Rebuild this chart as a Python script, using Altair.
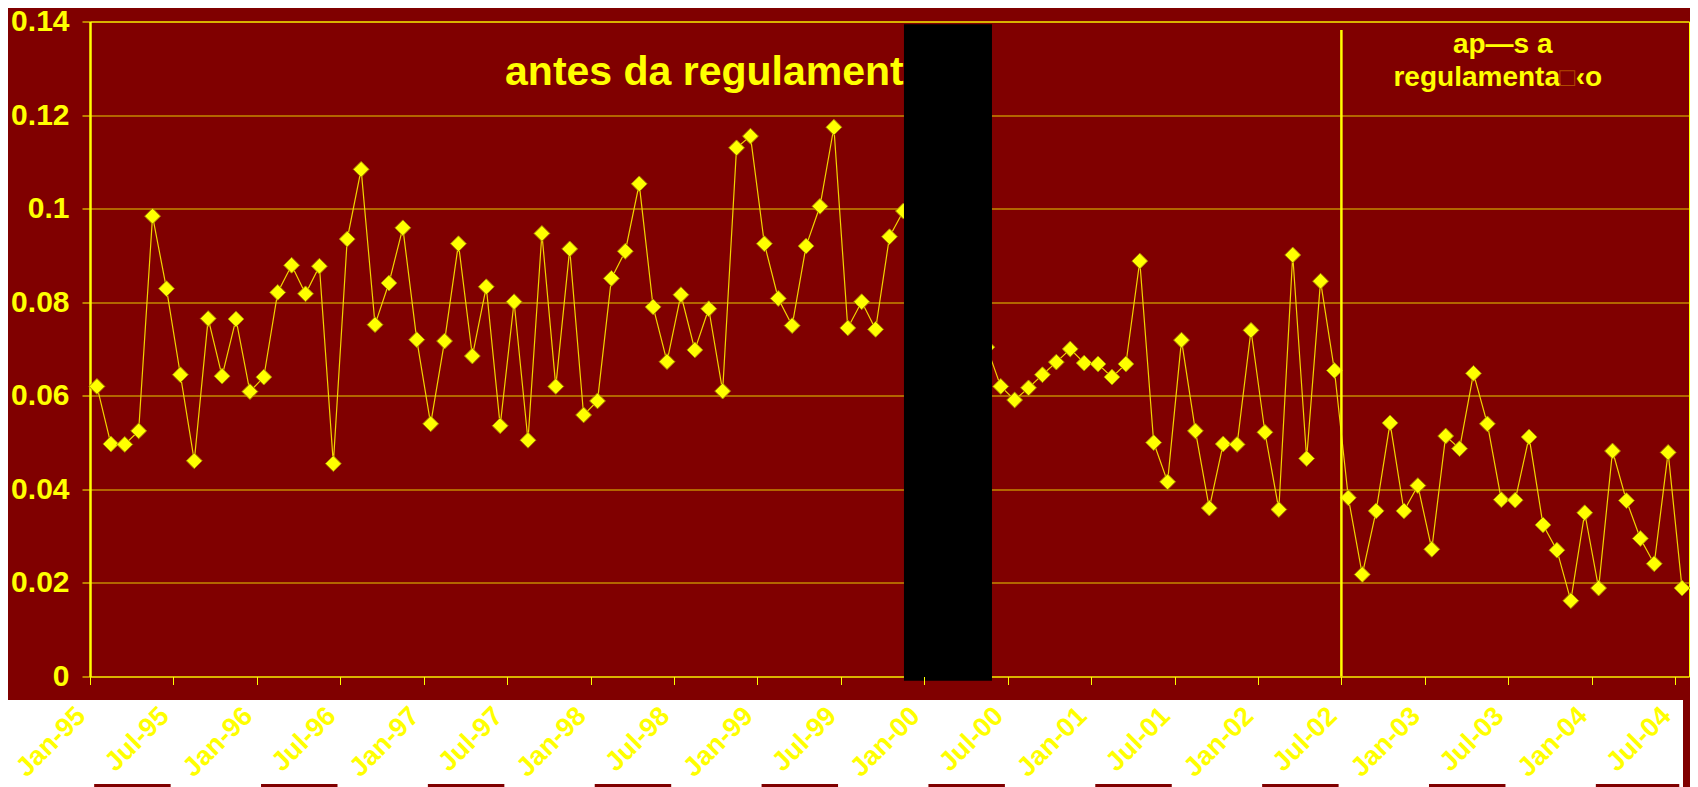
import json
import altair as alt
import pandas as pd

# ---- data (monthly, Jan-95 .. Jul-04) ----
rates = [
    0.0620, 0.0497, 0.0496, 0.0525, 0.0984, 0.0829, 0.0645, 0.0461, 0.0765, 0.0642, 0.0764, 0.0609,  # 1995
    0.0640, 0.0821, 0.0879, 0.0818, 0.0877, 0.0455, 0.0935, 0.1084, 0.0752, 0.0841, 0.0959, 0.0720,  # 1996
    0.0540, 0.0717, 0.0925, 0.0685, 0.0833, 0.0536, 0.0801, 0.0505, 0.0947, 0.0620, 0.0914, 0.0559,  # 1997
    0.0589, 0.0851, 0.0909, 0.1053, 0.0790, 0.0673, 0.0816, 0.0698, 0.0786, 0.0610, 0.1130, 0.1155,  # 1998
    0.0925, 0.0808, 0.0750, 0.0920, 0.1005, 0.1174, 0.0745, 0.0801, 0.0742, 0.0940, 0.0995, None,    # 1999
    None, None, None, None, 0.0704, 0.0620, 0.0591, 0.0617, 0.0645, 0.0672, 0.0700, 0.0670,          # 2000
    0.0668, 0.0640, 0.0668, 0.0888, 0.0500, 0.0416, 0.0719, 0.0525, 0.0360, 0.0497, 0.0496, 0.0740,  # 2001
    0.0522, 0.0357, 0.0901, 0.0466, 0.0845, 0.0654, 0.0382, 0.0218, 0.0354, 0.0542, 0.0354, 0.0408,  # 2002
    0.0272, 0.0514, 0.0487, 0.0648, 0.0540, 0.0378, 0.0377, 0.0512, 0.0324, 0.0270, 0.0162, 0.0350,  # 2003
    0.0189, 0.0482, 0.0376, 0.0295, 0.0241, 0.0479, 0.0189,                                          # 2004
]
tick_months = list(range(0, 115, 6))
tick_labels = ["Jan-95", "Jul-95", "Jan-96", "Jul-96", "Jan-97", "Jul-97", "Jan-98", "Jul-98",
               "Jan-99", "Jul-99", "Jan-00", "Jul-00", "Jan-01", "Jul-01", "Jan-02", "Jul-02",
               "Jan-03", "Jul-03", "Jan-04", "Jul-04"]
y_ticks = [0, 0.02, 0.04, 0.06, 0.08, 0.10, 0.12, 0.14]

title_text = ["antes da regulamenta\u25a1\u2039o"]
title_pos = [29.85, 0.1264]
after_line1 = ["ap\u2014s a"]
after_line1_pos = [101.6, 0.1333]
after_line2_parts = ["regulamenta", "\u25a1", "\u2039o"]
after_line2_x = [105.72, 106.23, 106.85]
after_line2_y = 0.1262
divider_month = [90]
divider_top = [0.1382]
box_x = [58.54, 64.87]
box_y = [0.1394, -0.0009]
strip_start = [0.3, 12.3, 24.3, 36.3, 48.3, 60.3, 72.3, 84.3, 96.3, 108.3]
strip_end = [5.8, 17.8, 29.8, 41.8, 53.8, 65.8, 77.8, 89.8, 101.8, 114.3]

FONT = "Liberation Sans"
YEL = "#FFFF00"
RED = "#800000"

df = pd.DataFrame({"idx": list(range(len(rates))), "rate": rates})

xscale = alt.Scale(domain=[0, 115], nice=False, zero=False)
yscale = alt.Scale(domain=[0, 0.14], nice=False, zero=False)

label_expr = json.dumps(tick_labels) + "[round(datum.value / 6)]"

x_axis = alt.Axis(values=tick_months, labelExpr=label_expr, title=None, grid=False, domain=False,
                  ticks=True, tickSize=8, tickColor=YEL, tickWidth=1,
                  labelAngle=315, labelAlign="right", labelBaseline="middle", labelPadding=27,
                  labelOffset=-9,
                  labelFont=FONT, labelFontSize=27, labelFontWeight="bold", labelColor=YEL,
                  labelOverlap=False, labelFlush=False, labelBound=False, zindex=1)
y_axis = alt.Axis(values=y_ticks, format=".2~f", title=None, grid=True, gridColor=YEL,
                  gridOpacity=0.8, gridWidth=1, domain=True, domainColor=YEL, domainWidth=2.5,
                  ticks=True, tickSize=8, tickColor=YEL, tickWidth=1, labelPadding=13,
                  labelFont=FONT, labelFontSize=30, labelFontWeight="bold", labelColor=YEL,
                  labelOverlap=False, labelFlush=False, zindex=0)


def X(field):
    return alt.X(field, scale=xscale, axis=x_axis, title=None)


def Y(field):
    return alt.Y(field, scale=yscale, axis=y_axis, title=None)


def text_layer(texts, xs, ys, align, color=YEL, size=28, weight="bold"):
    d = pd.DataFrame({"t": texts, "m": xs, "v": ys})
    return alt.Chart(d).mark_text(
        align=align, baseline="alphabetic", font=FONT, fontSize=size, fontWeight=weight, color=color
    ).encode(x=X("m:Q"), y=Y("v:Q"), text="t:N")


base = alt.Chart(df).transform_calculate(mid="datum.idx + 0.5")

line = base.mark_line(color="#F2D400", strokeWidth=1.2).encode(
    x=X("mid:Q"), y=Y("rate:Q"),
)
points = base.mark_point(shape="diamond", filled=True, size=250, fill=YEL, stroke="#A88800",
                         strokeWidth=1, opacity=1).encode(
    x=X("mid:Q"), y=Y("rate:Q"),
)

divider = alt.Chart(pd.DataFrame({"m": divider_month, "top": divider_top, "bot": [0]})).mark_rule(
    color=YEL, strokeWidth=2.5).encode(
    x=X("m:Q"), y=Y("top:Q"), y2="bot:Q",
)

title_mark = text_layer(title_text, [title_pos[0]], [title_pos[1]], "left", size=41)
after1 = text_layer(after_line1, [after_line1_pos[0]], [after_line1_pos[1]], "center")
after2a = text_layer([after_line2_parts[0]], [after_line2_x[0]], [after_line2_y], "right")
after2b = text_layer([after_line2_parts[1]], [after_line2_x[1]], [after_line2_y], "center",
                     color="#B04A00", size=26, weight="normal")
after2c = text_layer([after_line2_parts[2]], [after_line2_x[2]], [after_line2_y], "left")

box = alt.Chart(pd.DataFrame({"x1": [box_x[0]], "x2": [box_x[1]], "y1": [box_y[0]], "y2": [box_y[1]]})).mark_rect(
    color="#000000").encode(
    x=X("x1:Q"), x2="x2:Q", y=Y("y1:Q"), y2="y2:Q",
)

# white strip behind the month labels (outside the plot area)
band = alt.Chart(pd.DataFrame({"k": [0]})).mark_rect(color="#FFFFFF").encode(
    x=alt.value(-82), x2=alt.value(1593), y=alt.value(678.6), y2=alt.value(766),
)

# thin dark-red slivers along the very bottom edge
strips = alt.Chart(pd.DataFrame({"s": strip_start, "e": strip_end})).mark_rect(color=RED).encode(
    x=X("s:Q"), x2="e:Q", y=alt.value(762.5), y2=alt.value(766),
)

chart = alt.layer(line, points, divider, title_mark, after1, after2a, after2b, after2c,
                  box, band, strips).properties(
    width=1599,
    height=655,
    autosize=alt.AutoSizeParams(type="none"),
    padding={"left": 82, "top": 13.5, "right": 1, "bottom": 110.5},
    background=RED,
).configure_view(
    fill=RED, stroke=YEL, strokeWidth=1,
)

chart.save("out.html", embed_options={"renderer": "svg", "actions": False})
